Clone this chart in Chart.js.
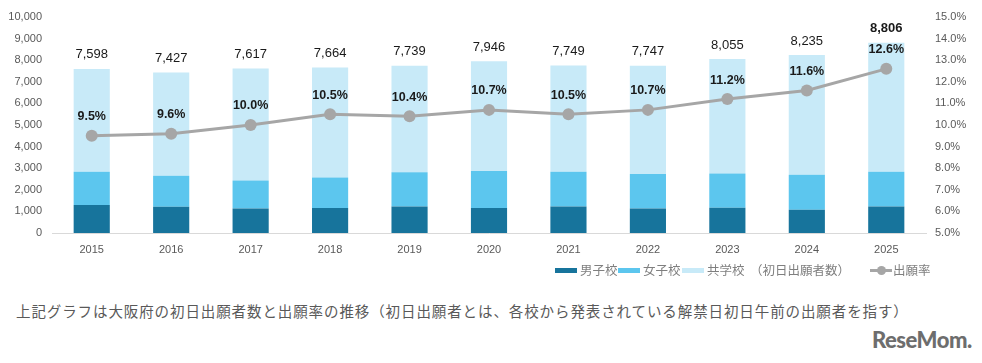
<!DOCTYPE html>
<html lang="ja">
<head>
<meta charset="utf-8">
<script src="https://cdn.jsdelivr.net/npm/chart.js@4"></script>
<style>
  body { margin: 0; background: #fff; width: 982px; height: 363px; overflow: hidden; position: relative;
         font-family: "Noto Sans CJK JP", "Noto Sans", sans-serif; }
  #wrap { position: absolute; left: 0; top: 0; width: 982px; height: 261px; }
  .lg { position: absolute; top: 262px; height: 16px; font-size: 12.5px; color: #7f7f7f; line-height: 16px; white-space: nowrap; }
  .sw { position: absolute; top: 6px; height: 5px; width: 22px; }
  #caption { position: absolute; left: 16px; top: 300px; font-size: 14.5px; letter-spacing: 0.9px; color: #595959; white-space: nowrap; }
  #logo { position: absolute; left: 872px; top: 326px; font-family: "Lato", "Roboto", sans-serif; font-weight: 900; font-size: 22px; color: #6d6d6d; letter-spacing: -0.5px; }
</style>
</head>
<body>
<div id="wrap"><canvas id="chart"></canvas></div>

<div class="lg" style="left:555px"><span class="sw" style="left:0;background:#17749c"></span><span style="position:absolute;left:25px">男子校</span></div>
<div class="lg" style="left:618px"><span class="sw" style="left:0;background:#5cc6ee"></span><span style="position:absolute;left:25px">女子校</span></div>
<div class="lg" style="left:682px"><span class="sw" style="left:0;background:#c8eaf8"></span><span style="position:absolute;left:25px">共学校&nbsp;&nbsp;（初日出願者数）</span></div>
<div class="lg" style="left:870px">
  <span style="position:absolute;left:0;top:7px;width:22px;height:3px;background:#a6a6a6"></span>
  <span style="position:absolute;left:7px;top:4px;width:9px;height:9px;border-radius:50%;background:#a6a6a6"></span>
  <span style="position:absolute;left:23px">出願率</span>
</div>

<div id="caption">上記グラフは大阪府の初日出願者数と出願率の推移（初日出願者とは、各校から発表されている解禁日初日午前の出願者を指す）</div>
<div id="logo">ReseMom.</div>

<script>
// ---------- data ----------
const years   = ["2015", "2016", "2017", "2018", "2019", "2020", "2021", "2022", "2023", "2024", "2025"];
const totals  = [7598, 7427, 7617, 7664, 7739, 7946, 7749, 7747, 8055, 8235, 8806];
const boys    = [1300, 1220, 1130, 1160, 1230, 1160, 1230, 1130, 1170, 1080, 1230];
const girls   = [1540, 1430, 1300, 1410, 1580, 1710, 1610, 1600, 1590, 1620, 1610];
const coed    = totals.map((t, i) => t - boys[i] - girls[i]);
const rates   = [9.5, 9.6, 10.0, 10.5, 10.4, 10.7, 10.5, 10.7, 11.2, 11.6, 12.6];

const TICK = "#595959";
const FONT = "'Liberation Sans', Arial, sans-serif";

// labels: totals above bars, rates above points
const labelPlugin = {
  id: "labels",
  afterDatasetsDraw(chart) {
    const ctx = chart.ctx;
    const top = chart.getDatasetMeta(2).data;
    const pts = chart.getDatasetMeta(3).data;
    ctx.save();
    ctx.textAlign = "center";
    ctx.textBaseline = "middle";
    top.forEach((b, i) => {
      const last = i === totals.length - 1;
      ctx.font = (last ? "bold " : "") + "13px " + FONT;
      ctx.fillStyle = "#1a1a1a";
      ctx.fillText(totals[i].toLocaleString("en-US"), b.x, b.y - 14);
    });
    pts.forEach((p, i) => {
      ctx.font = "bold 12.5px " + FONT;
      ctx.fillStyle = "#1a1a1a";
      ctx.fillText(rates[i].toFixed(1) + "%", p.x, p.y - 19);
    });
    ctx.restore();
  },
};

new Chart(document.getElementById("chart"), {
  data: {
    labels: years,
    datasets: [
      { type: "bar", label: "男子校", data: boys,  backgroundColor: "#17749c", stack: "s", yAxisID: "y", order: 2 },
      { type: "bar", label: "女子校", data: girls, backgroundColor: "#5cc6ee", stack: "s", yAxisID: "y", order: 2 },
      { type: "bar", label: "共学校", data: coed,  backgroundColor: "#c8eaf8", stack: "s", yAxisID: "y", order: 2 },
      { type: "line", label: "出願率", data: rates, yAxisID: "y1", order: 1,
        borderColor: "#a6a6a6", backgroundColor: "#a6a6a6", borderWidth: 3,
        pointRadius: 6, pointHoverRadius: 6, pointBorderWidth: 0, tension: 0 },
    ],
  },
  options: {
    responsive: true,
    maintainAspectRatio: false,
    animation: false,
    datasets: { bar: { categoryPercentage: 1, barPercentage: 0.455 } },
    layout: { padding: { top: 17, left: 0, right: 0, bottom: 0 } },
    plugins: { legend: { display: false }, tooltip: { enabled: false } },
    scales: {
      x: {
        stacked: true,
        grid: { display: false, drawTicks: false },
        border: { color: "#d9d9d9", width: 1 },
        ticks: { color: TICK, font: { family: FONT, size: 11 }, padding: 10 },
        afterFit: (s) => { s.height = 28; },
      },
      y: {
        stacked: true, position: "left", min: 0, max: 10000,
        grid: { display: false, drawTicks: false },
        border: { display: false },
        ticks: { stepSize: 1000, color: TICK, font: { family: FONT, size: 11 }, padding: 10,
                 callback: (v) => v.toLocaleString("en-US") },
        afterFit: (s) => { s.width = 52; },
      },
      y1: {
        position: "right", min: 5, max: 15,
        grid: { display: false, drawTicks: false },
        border: { display: false },
        ticks: { stepSize: 1, color: TICK, font: { family: FONT, size: 11 }, padding: 9,
                 callback: (v) => v.toFixed(1) + "%" },
        afterFit: (s) => { s.width = 56; },
      },
    },
  },
  plugins: [labelPlugin],
});
</script>
</body>
</html>
